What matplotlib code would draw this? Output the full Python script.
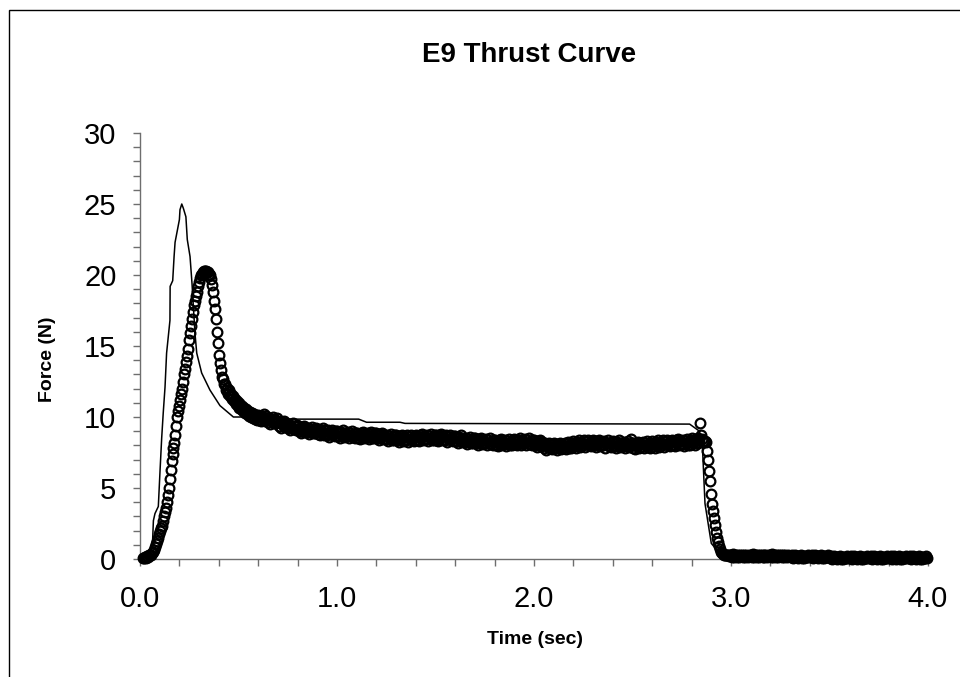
import matplotlib
matplotlib.use("Agg")
import matplotlib.pyplot as plt
from matplotlib.patches import Rectangle
from matplotlib.ticker import MultipleLocator, FormatStrFormatter

# measured thrust (open circles): ignition / peak / decay, sampled every 5 ms
rise_time = [
    0.015, 0.020, 0.025, 0.030, 0.035, 0.040, 0.045, 0.050, 0.055, 0.060,
    0.065, 0.070, 0.075, 0.080, 0.085, 0.090, 0.095, 0.100, 0.105, 0.110,
    0.115, 0.120, 0.125, 0.130, 0.135, 0.140, 0.145, 0.150, 0.155, 0.160,
    0.165, 0.170, 0.175, 0.180, 0.185, 0.190, 0.195, 0.200, 0.205, 0.210,
    0.215, 0.220, 0.225, 0.230, 0.235, 0.240, 0.245, 0.250, 0.255, 0.260,
    0.265, 0.270, 0.275, 0.280, 0.285, 0.290, 0.295, 0.300, 0.305, 0.310,
    0.315, 0.320, 0.325, 0.330, 0.335, 0.340, 0.345, 0.350, 0.355, 0.360,
    0.365, 0.370, 0.375, 0.380, 0.385, 0.390, 0.395, 0.400, 0.405, 0.410,
    0.415, 0.420, 0.425, 0.430, 0.435, 0.440, 0.445, 0.450, 0.455, 0.460,
    0.465, 0.470, 0.475, 0.480, 0.485, 0.490, 0.495, 0.500, 0.505, 0.510,
    0.515, 0.520, 0.525, 0.530, 0.535, 0.540, 0.545, 0.550, 0.555, 0.560,
    0.565, 0.570, 0.575, 0.580, 0.585, 0.590, 0.595,
]
rise_force = [
    0.05, 0.1, 0.15, 0.1, 0.2, 0.15, 0.25, 0.3, 0.25, 0.4,
    0.5, 0.65, 0.85, 1.05, 1.3, 1.5, 1.75, 1.95, 2.15, 2.35,
    2.7, 3.0, 3.3, 3.6, 4.0, 4.5, 5.0, 5.6, 6.3, 6.9,
    7.4, 7.8, 8.2, 8.7, 9.4, 10.0, 10.4, 10.8, 11.2, 11.6,
    12.0, 12.5, 13.0, 13.4, 13.9, 14.3, 14.8, 15.4, 15.9, 16.4,
    16.9, 17.4, 17.9, 18.2, 18.5, 18.8, 19.2, 19.5, 19.8, 20.0,
    20.1, 20.2, 20.3, 20.3, 20.3, 20.2, 20.2, 20.1, 20.0, 19.7,
    19.3, 18.8, 18.2, 17.6, 16.9, 16.0, 15.2, 14.4, 13.8, 13.3,
    12.8, 12.7, 12.3, 12.35, 11.9, 12.05, 11.65, 11.9, 11.45, 11.65,
    11.3, 11.45, 11.1, 11.25, 10.9, 11.1, 10.75, 11.0, 10.65, 10.85,
    10.55, 10.75, 10.45, 10.65, 10.3, 10.55, 10.2, 10.45, 10.1, 10.35,
    10.0, 10.25, 9.95, 10.2, 9.85, 10.1, 9.8,
]

# measured thrust: sustain phase, sampled every 5 ms
burn_time = [
    0.600, 0.605, 0.610, 0.615, 0.620, 0.625, 0.630, 0.635, 0.640, 0.645,
    0.650, 0.655, 0.660, 0.665, 0.670, 0.675, 0.680, 0.685, 0.690, 0.695,
    0.700, 0.705, 0.710, 0.715, 0.720, 0.725, 0.730, 0.735, 0.740, 0.745,
    0.750, 0.755, 0.760, 0.765, 0.770, 0.775, 0.780, 0.785, 0.790, 0.795,
    0.800, 0.805, 0.810, 0.815, 0.820, 0.825, 0.830, 0.835, 0.840, 0.845,
    0.850, 0.855, 0.860, 0.865, 0.870, 0.875, 0.880, 0.885, 0.890, 0.895,
    0.900, 0.905, 0.910, 0.915, 0.920, 0.925, 0.930, 0.935, 0.940, 0.945,
    0.950, 0.955, 0.960, 0.965, 0.970, 0.975, 0.980, 0.985, 0.990, 0.995,
    1.000, 1.005, 1.010, 1.015, 1.020, 1.025, 1.030, 1.035, 1.040, 1.045,
    1.050, 1.055, 1.060, 1.065, 1.070, 1.075, 1.080, 1.085, 1.090, 1.095,
    1.100, 1.105, 1.110, 1.115, 1.120, 1.125, 1.130, 1.135, 1.140, 1.145,
    1.150, 1.155, 1.160, 1.165, 1.170, 1.175, 1.180, 1.185, 1.190, 1.195,
    1.200, 1.205, 1.210, 1.215, 1.220, 1.225, 1.230, 1.235, 1.240, 1.245,
    1.250, 1.255, 1.260, 1.265, 1.270, 1.275, 1.280, 1.285, 1.290, 1.295,
    1.300, 1.305, 1.310, 1.315, 1.320, 1.325, 1.330, 1.335, 1.340, 1.345,
    1.350, 1.355, 1.360, 1.365, 1.370, 1.375, 1.380, 1.385, 1.390, 1.395,
    1.400, 1.405, 1.410, 1.415, 1.420, 1.425, 1.430, 1.435, 1.440, 1.445,
    1.450, 1.455, 1.460, 1.465, 1.470, 1.475, 1.480, 1.485, 1.490, 1.495,
    1.500, 1.505, 1.510, 1.515, 1.520, 1.525, 1.530, 1.535, 1.540, 1.545,
    1.550, 1.555, 1.560, 1.565, 1.570, 1.575, 1.580, 1.585, 1.590, 1.595,
    1.600, 1.605, 1.610, 1.615, 1.620, 1.625, 1.630, 1.635, 1.640, 1.645,
    1.650, 1.655, 1.660, 1.665, 1.670, 1.675, 1.680, 1.685, 1.690, 1.695,
    1.700, 1.705, 1.710, 1.715, 1.720, 1.725, 1.730, 1.735, 1.740, 1.745,
    1.750, 1.755, 1.760, 1.765, 1.770, 1.775, 1.780, 1.785, 1.790, 1.795,
    1.800, 1.805, 1.810, 1.815, 1.820, 1.825, 1.830, 1.835, 1.840, 1.845,
    1.850, 1.855, 1.860, 1.865, 1.870, 1.875, 1.880, 1.885, 1.890, 1.895,
    1.900, 1.905, 1.910, 1.915, 1.920, 1.925, 1.930, 1.935, 1.940, 1.945,
    1.950, 1.955, 1.960, 1.965, 1.970, 1.975, 1.980, 1.985, 1.990, 1.995,
    2.000, 2.005, 2.010, 2.015, 2.020, 2.025, 2.030, 2.035, 2.040, 2.045,
    2.050, 2.055, 2.060, 2.065, 2.070, 2.075, 2.080, 2.085, 2.090, 2.095,
    2.100, 2.105, 2.110, 2.115, 2.120, 2.125, 2.130, 2.135, 2.140, 2.145,
    2.150, 2.155, 2.160, 2.165, 2.170, 2.175, 2.180, 2.185, 2.190, 2.195,
    2.200, 2.205, 2.210, 2.215, 2.220, 2.225, 2.230, 2.235, 2.240, 2.245,
    2.250, 2.255, 2.260, 2.265, 2.270, 2.275, 2.280, 2.285, 2.290, 2.295,
    2.300, 2.305, 2.310, 2.315, 2.320, 2.325, 2.330, 2.335, 2.340, 2.345,
    2.350, 2.355, 2.360, 2.365, 2.370, 2.375, 2.380, 2.385, 2.390, 2.395,
    2.400, 2.405, 2.410, 2.415, 2.420, 2.425, 2.430, 2.435, 2.440, 2.445,
    2.450, 2.455, 2.460, 2.465, 2.470, 2.475, 2.480, 2.485, 2.490, 2.495,
    2.500, 2.505, 2.510, 2.515, 2.520, 2.525, 2.530, 2.535, 2.540, 2.545,
    2.550, 2.555, 2.560, 2.565, 2.570, 2.575, 2.580, 2.585, 2.590, 2.595,
    2.600, 2.605, 2.610, 2.615, 2.620, 2.625, 2.630, 2.635, 2.640, 2.645,
    2.650, 2.655, 2.660, 2.665, 2.670, 2.675, 2.680, 2.685, 2.690, 2.695,
    2.700, 2.705, 2.710, 2.715, 2.720, 2.725, 2.730, 2.735, 2.740, 2.745,
    2.750, 2.755, 2.760, 2.765, 2.770, 2.775, 2.780, 2.785, 2.790, 2.795,
    2.800, 2.805, 2.810, 2.815, 2.820, 2.825, 2.830, 2.835, 2.840,
]
burn_force = [
    10.15, 9.8, 10.0, 9.7, 10.1, 9.9, 10.2, 9.75, 10.05, 9.85,
    9.65, 9.95, 9.5, 9.85, 9.7, 10.0, 9.6, 9.8, 9.55, 9.9,
    9.7, 9.35, 9.55, 9.25, 9.65, 9.45, 9.75, 9.3, 9.6, 9.4,
    9.2, 9.5, 9.05, 9.4, 9.25, 9.55, 9.15, 9.35, 9.1, 9.45,
    9.35, 9.0, 9.2, 8.9, 9.3, 9.1, 9.4, 8.95, 9.25, 9.05,
    8.95, 9.25, 8.8, 9.15, 9.0, 9.3, 8.9, 9.1, 8.85, 9.2,
    9.15, 8.8, 9.0, 8.7, 9.1, 8.9, 9.2, 8.75, 9.05, 8.85,
    8.75, 9.05, 8.6, 8.95, 8.8, 9.1, 8.7, 8.9, 8.65, 9.0,
    9.0, 8.65, 8.85, 8.55, 8.95, 8.75, 9.05, 8.6, 8.9, 8.7,
    8.65, 8.95, 8.5, 8.85, 8.7, 9.0, 8.6, 8.8, 8.55, 8.9,
    8.9, 8.55, 8.75, 8.45, 8.85, 8.65, 8.95, 8.5, 8.8, 8.6,
    8.6, 8.9, 8.45, 8.8, 8.65, 8.95, 8.55, 8.75, 8.5, 8.85,
    8.85, 8.5, 8.7, 8.4, 8.8, 8.6, 8.9, 8.45, 8.75, 8.55,
    8.45, 8.75, 8.3, 8.65, 8.5, 8.8, 8.4, 8.6, 8.35, 8.7,
    8.7, 8.35, 8.55, 8.25, 8.65, 8.45, 8.75, 8.3, 8.6, 8.4,
    8.4, 8.7, 8.25, 8.6, 8.45, 8.75, 8.35, 8.55, 8.3, 8.65,
    8.75, 8.4, 8.6, 8.3, 8.7, 8.5, 8.8, 8.35, 8.65, 8.45,
    8.45, 8.75, 8.3, 8.65, 8.5, 8.8, 8.4, 8.6, 8.35, 8.7,
    8.75, 8.4, 8.6, 8.3, 8.7, 8.5, 8.8, 8.35, 8.65, 8.45,
    8.4, 8.7, 8.25, 8.6, 8.45, 8.75, 8.35, 8.55, 8.3, 8.65,
    8.65, 8.3, 8.5, 8.2, 8.6, 8.4, 8.7, 8.25, 8.55, 8.35,
    8.25, 8.55, 8.1, 8.45, 8.3, 8.6, 8.2, 8.4, 8.15, 8.5,
    8.5, 8.15, 8.35, 8.05, 8.45, 8.25, 8.55, 8.1, 8.4, 8.2,
    8.15, 8.45, 8.0, 8.35, 8.2, 8.5, 8.1, 8.3, 8.05, 8.4,
    8.4, 8.05, 8.25, 7.95, 8.35, 8.15, 8.45, 8.0, 8.3, 8.1,
    8.1, 8.4, 7.95, 8.3, 8.15, 8.45, 8.05, 8.25, 8.0, 8.35,
    8.45, 8.1, 8.3, 8.0, 8.4, 8.2, 8.5, 8.05, 8.35, 8.15,
    8.15, 8.45, 8.0, 8.35, 8.2, 8.5, 8.1, 8.3, 8.05, 8.4,
    8.35, 8.0, 8.2, 7.9, 8.3, 8.1, 8.4, 7.95, 8.25, 8.05,
    7.85, 8.15, 7.7, 8.05, 7.9, 8.2, 7.8, 8.0, 7.75, 8.1,
    8.15, 7.8, 8.0, 7.7, 8.1, 7.9, 8.2, 7.75, 8.05, 7.85,
    7.9, 8.2, 7.75, 8.1, 7.95, 8.25, 7.85, 8.05, 7.8, 8.15,
    8.3, 7.95, 8.15, 7.85, 8.25, 8.05, 8.35, 7.9, 8.2, 8.0,
    8.05, 8.35, 7.9, 8.25, 8.1, 8.4, 8.0, 8.2, 7.95, 8.3,
    8.35, 8.0, 8.2, 7.9, 8.3, 8.1, 8.4, 7.95, 8.25, 8.05,
    8.0, 8.3, 7.85, 8.2, 8.05, 8.35, 7.95, 8.15, 7.9, 8.25,
    8.3, 7.95, 8.15, 7.85, 8.25, 8.05, 8.35, 7.9, 8.2, 8.0,
    7.95, 8.25, 7.8, 8.15, 8.0, 8.3, 7.9, 8.1, 8.45, 8.2,
    8.2, 7.85, 8.05, 7.75, 8.15, 7.95, 8.25, 7.8, 8.1, 7.9,
    7.95, 8.25, 7.8, 8.15, 8.0, 8.3, 7.9, 8.1, 7.85, 8.2,
    8.3, 7.95, 8.15, 7.85, 8.25, 8.05, 8.35, 7.9, 8.2, 8.0,
    8.05, 8.35, 7.9, 8.25, 8.1, 8.4, 8.0, 8.2, 7.95, 8.3,
    8.4, 8.05, 8.25, 7.95, 8.35, 8.15, 8.45, 8.0, 8.3, 8.1,
    8.1, 8.4, 7.95, 8.3, 8.15, 8.45, 8.05, 8.25, 8.0, 8.35,
    8.5, 8.15, 8.35, 8.05, 8.45, 8.25, 8.55, 8.2, 8.4,
]

# measured thrust: burnout, sampled every 5 ms
tail_off_time = [
    2.845, 2.850, 2.855, 2.860, 2.865, 2.870, 2.875, 2.880, 2.885, 2.890,
    2.895, 2.900, 2.905, 2.910, 2.915, 2.920, 2.925, 2.930, 2.935, 2.940,
    2.945, 2.950, 2.955, 2.960, 2.965, 2.970, 2.975, 2.980, 2.985, 2.990,
    2.995,
]
tail_off_force = [
    9.6, 8.7, 8.45, 8.3, 8.25, 8.3, 8.25, 7.6, 7.0, 6.2,
    5.5, 4.6, 3.9, 3.4, 2.9, 2.4, 1.9, 1.5, 1.2, 0.9,
    0.7, 0.5, 0.4, 0.35, 0.3, 0.3, 0.25, 0.3, 0.25, 0.2,
    0.25,
]

# measured thrust: after burnout, sampled every 5 ms
idle_time = [
    3.000, 3.005, 3.010, 3.015, 3.020, 3.025, 3.030, 3.035, 3.040, 3.045,
    3.050, 3.055, 3.060, 3.065, 3.070, 3.075, 3.080, 3.085, 3.090, 3.095,
    3.100, 3.105, 3.110, 3.115, 3.120, 3.125, 3.130, 3.135, 3.140, 3.145,
    3.150, 3.155, 3.160, 3.165, 3.170, 3.175, 3.180, 3.185, 3.190, 3.195,
    3.200, 3.205, 3.210, 3.215, 3.220, 3.225, 3.230, 3.235, 3.240, 3.245,
    3.250, 3.255, 3.260, 3.265, 3.270, 3.275, 3.280, 3.285, 3.290, 3.295,
    3.300, 3.305, 3.310, 3.315, 3.320, 3.325, 3.330, 3.335, 3.340, 3.345,
    3.350, 3.355, 3.360, 3.365, 3.370, 3.375, 3.380, 3.385, 3.390, 3.395,
    3.400, 3.405, 3.410, 3.415, 3.420, 3.425, 3.430, 3.435, 3.440, 3.445,
    3.450, 3.455, 3.460, 3.465, 3.470, 3.475, 3.480, 3.485, 3.490, 3.495,
    3.500, 3.505, 3.510, 3.515, 3.520, 3.525, 3.530, 3.535, 3.540, 3.545,
    3.550, 3.555, 3.560, 3.565, 3.570, 3.575, 3.580, 3.585, 3.590, 3.595,
    3.600, 3.605, 3.610, 3.615, 3.620, 3.625, 3.630, 3.635, 3.640, 3.645,
    3.650, 3.655, 3.660, 3.665, 3.670, 3.675, 3.680, 3.685, 3.690, 3.695,
    3.700, 3.705, 3.710, 3.715, 3.720, 3.725, 3.730, 3.735, 3.740, 3.745,
    3.750, 3.755, 3.760, 3.765, 3.770, 3.775, 3.780, 3.785, 3.790, 3.795,
    3.800, 3.805, 3.810, 3.815, 3.820, 3.825, 3.830, 3.835, 3.840, 3.845,
    3.850, 3.855, 3.860, 3.865, 3.870, 3.875, 3.880, 3.885, 3.890, 3.895,
    3.900, 3.905, 3.910, 3.915, 3.920, 3.925, 3.930, 3.935, 3.940, 3.945,
    3.950, 3.955, 3.960, 3.965, 3.970, 3.975, 3.980, 3.985, 3.990, 3.995,
]
idle_force = [
    0.27, 0.17, 0.32, 0.14, 0.22, 0.3, 0.17, 0.25, 0.12, 0.27,
    0.2, 0.3, 0.15, 0.25, 0.12, 0.28, 0.22, 0.17, 0.3, 0.2,
    0.27, 0.17, 0.32, 0.14, 0.22, 0.3, 0.17, 0.25, 0.12, 0.27,
    0.2, 0.3, 0.15, 0.25, 0.12, 0.28, 0.22, 0.17, 0.3, 0.2,
    0.27, 0.17, 0.32, 0.14, 0.22, 0.3, 0.17, 0.25, 0.12, 0.27,
    0.2, 0.3, 0.15, 0.25, 0.12, 0.28, 0.22, 0.17, 0.3, 0.2,
    0.22, 0.12, 0.27, 0.09, 0.17, 0.25, 0.12, 0.2, 0.07, 0.22,
    0.15, 0.25, 0.1, 0.2, 0.08, 0.23, 0.17, 0.12, 0.25, 0.15,
    0.22, 0.12, 0.27, 0.09, 0.17, 0.25, 0.12, 0.2, 0.07, 0.22,
    0.15, 0.25, 0.1, 0.2, 0.08, 0.23, 0.17, 0.12, 0.25, 0.15,
    0.15, 0.05, 0.2, 0.02, 0.1, 0.18, 0.05, 0.13, 0.0, 0.15,
    0.08, 0.18, 0.03, 0.13, 0.01, 0.16, 0.1, 0.05, 0.18, 0.08,
    0.15, 0.05, 0.2, 0.02, 0.1, 0.18, 0.05, 0.13, 0.0, 0.15,
    0.08, 0.18, 0.03, 0.13, 0.01, 0.16, 0.1, 0.05, 0.18, 0.08,
    0.15, 0.05, 0.2, 0.02, 0.1, 0.18, 0.05, 0.13, 0.0, 0.15,
    0.08, 0.18, 0.03, 0.13, 0.01, 0.16, 0.1, 0.05, 0.18, 0.08,
    0.15, 0.05, 0.2, 0.02, 0.1, 0.18, 0.05, 0.13, 0.0, 0.15,
    0.08, 0.18, 0.03, 0.13, 0.01, 0.16, 0.1, 0.05, 0.18, 0.08,
    0.15, 0.05, 0.2, 0.02, 0.1, 0.18, 0.05, 0.13, 0.0, 0.15,
    0.08, 0.18, 0.03, 0.13, 0.01, 0.16, 0.1, 0.05, 0.18, 0.08,
]

# published E9 curve (thin line)
spec_time = [
    0.045, 0.050, 0.064, 0.068, 0.076, 0.093, 0.102, 0.110, 0.118, 0.127,
    0.135, 0.152, 0.153, 0.166, 0.173, 0.178, 0.200, 0.203, 0.212, 0.220,
    0.233, 0.240, 0.254, 0.264, 0.279, 0.288, 0.313, 0.355, 0.406, 0.474,
    0.680, 0.700, 1.110, 1.150, 1.320, 1.345, 2.790, 2.840, 2.855, 2.868,
    2.900, 2.930, 2.950,
]
spec_force = [
    0.0, 0.4, 1.3, 2.7, 3.2, 3.7, 6.3, 8.5, 10.3, 12.1,
    14.5, 16.8, 19.2, 19.6, 21.3, 22.3, 23.9, 24.6, 25.0, 24.7,
    24.1, 22.5, 21.3, 19.4, 15.9, 14.5, 13.1, 11.9, 10.8, 10.0,
    10.0, 9.85, 9.85, 9.63, 9.63, 9.55, 9.5, 9.0, 7.9, 3.9,
    1.1, 0.6, 0.0,
]

W, H = 960, 677
AXIS_GREY = "#6e6e6e"
plt.rcParams["font.family"] = ["Liberation Sans", "DejaVu Sans"]


def main() -> None:
    fig = plt.figure(figsize=(W / 100, H / 100), dpi=100)
    fig.patch.set_facecolor("white")

    # chart-area border, only the left and top edges fall inside the picture
    top = 1 - 10 / H
    fig.patches.append(
        Rectangle((9 / W, -0.1), 1.2, top + 0.1, transform=fig.transFigure,
                  fill=False, ec="black", lw=1.0)
    )

    ax = fig.add_axes([140 / W, 1 - 559 / H, (928 - 140) / W, (559 - 133) / H])

    ax.plot(spec_time, spec_force, color="black", lw=1.1, zorder=2)

    meas_time = rise_time + burn_time + tail_off_time + idle_time
    meas_force = rise_force + burn_force + tail_off_force + idle_force
    ax.plot(meas_time, meas_force, ls="none", marker="o", ms=7.0,
            mfc="none", mec="black", mew=1.6, clip_on=False, zorder=3)

    ax.set_xlim(0, 4)
    ax.set_ylim(0, 30)
    ax.xaxis.set_major_locator(MultipleLocator(1.0))
    ax.xaxis.set_minor_locator(MultipleLocator(0.2))
    ax.xaxis.set_major_formatter(FormatStrFormatter("%.1f"))
    ax.yaxis.set_major_locator(MultipleLocator(5))
    ax.yaxis.set_minor_locator(MultipleLocator(1))

    for side in ["top", "right"]:
        ax.spines[side].set_visible(False)
    for side in ["left", "bottom"]:
        ax.spines[side].set_color(AXIS_GREY)
        ax.spines[side].set_linewidth(1.0)

    ax.tick_params(which="both", direction="out", length=5, width=1.0,
                   color=AXIS_GREY)
    ax.tick_params(axis="y", which="major", labelsize=21, pad=12)
    ax.tick_params(axis="x", which="major", labelsize=21, pad=14)

    fig.text(529 / W, 1 - 55 / H, "E9 Thrust Curve", ha="center", va="center",
             fontsize=20, fontweight="bold")
    fig.text(535 / W, 1 - 640 / H, "Time (sec)", ha="center", va="center",
             fontsize=14, fontweight="bold")
    fig.text(48 / W, 1 - 359 / H, "Force (N)", ha="center", va="center",
             rotation=90, fontsize=14, fontweight="bold")

    fig.savefig("out.png", dpi=100, facecolor="white")


if __name__ == "__main__":
    main()
